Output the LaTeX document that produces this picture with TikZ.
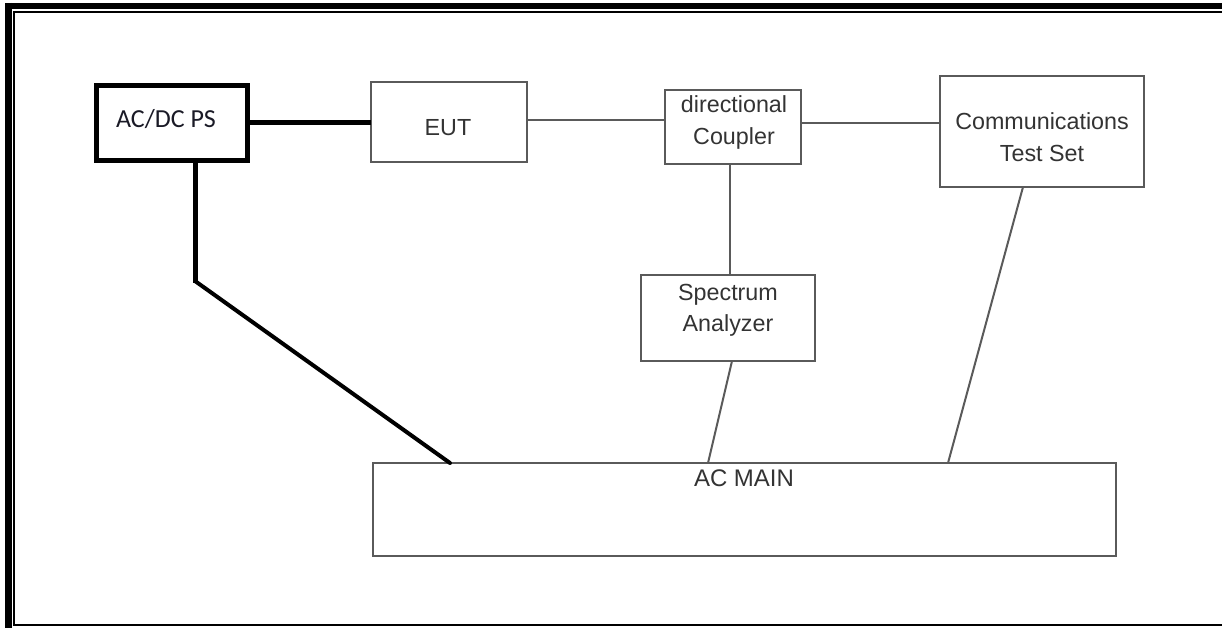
\documentclass[tikz,border=0pt]{standalone}
\usepackage{fontspec}
\setmainfont{Liberation Sans}
\newfontfamily\calibri{Carlito}
\definecolor{boxgray}{HTML}{5A5A5A}
\definecolor{txtgray}{HTML}{333333}
\definecolor{txtdark}{HTML}{1A1A26}
\begin{document}
\begin{tikzpicture}[x=1pt,y=-1pt,
  box/.style={draw=boxgray,line width=2pt,inner sep=0pt,outer sep=0pt,fill=none},
  psbox/.style={draw=black,line width=5pt,inner sep=0pt,outer sep=0pt},
  txt/.style={inner sep=0pt,anchor=base,text=txtgray,font=\fontsize{23.3}{31}\selectfont},
  pstxt/.style={inner sep=0pt,anchor=base,text=txtdark,font=\calibri\fontsize{26}{31}\selectfont},
  sig/.style={draw=boxgray,line width=2pt},
  pwr/.style={draw=black,line width=5pt},
  pwrdiag/.style={draw=black,line width=4pt,line cap=round},
  frameouter/.style={draw=black,line width=6.5pt},
  frameinner/.style={draw=black,line width=2.2pt}]
\useasboundingbox (0,0) rectangle (1222,628);
% frame
\draw[frameouter] (8.5,3) -- (8.5,640);
\draw[frameouter] (5,6) -- (1240,6);
\draw[frameinner] (14,12) -- (14,625) -- (1240,625);
\draw[frameinner] (13,12) -- (1240,12);
% boxes
\node[psbox,minimum width=151pt,minimum height=75pt] (acdc) at (172,123) {};
\node[box,minimum width=156pt,minimum height=80pt] (eut) at (449,122) {};
\node[box,minimum width=136pt,minimum height=74pt] (coup) at (733,127) {};
\node[box,minimum width=204pt,minimum height=111pt] (comm) at (1042,131.5) {};
\node[box,minimum width=174pt,minimum height=86pt] (spec) at (728,318) {};
\node[box,minimum width=743pt,minimum height=93pt] (main) at (744.5,509.5) {};
% texts
\node[pstxt] (tacdc) at (166,128) {AC/DC PS};
\node[txt] (teut) at (448,136) {EUT};
\node[txt] (tcoup1) at (734,113) {directional};
\node[txt] (tcoup2) at (734,145) {Coupler};
\node[txt] (tcomm1) at (1042,130) {Communications};
\node[txt] (tcomm2) at (1042,162) {Test Set};
\node[txt] (tspec1) at (728,300) {Spectrum};
\node[txt] (tspec2) at (728,331) {Analyzer};
\node[txt,font=\fontsize{24}{31}\selectfont] (tmain) at (744,486) {AC MAIN};
% connectors
\draw[pwr] (acdc.east) -- (acdc.east -| eut.west);
\draw[sig] ([yshift=2pt]eut.east) -- ([yshift=2pt]eut.east -| coup.west);
\draw[sig] ([yshift=4pt]coup.east) -- ([yshift=4pt]coup.east -| comm.west);
\draw[sig] ([xshift=-3pt]coup.south) -- ([xshift=2pt]spec.north);
\draw[sig] ([xshift=4pt]spec.south) -- ([xshift=-36.5pt]main.north);
\draw[sig] ([xshift=-19pt]comm.south) -- ([xshift=203.5pt]main.north);
\coordinate (bend) at (195,281);
\draw[pwr] ([xshift=23pt]acdc.south) -- ([yshift=-2pt]bend);
\draw[pwrdiag] (bend) -- ([xshift=-294.5pt]main.north);
\end{tikzpicture}
\end{document}
